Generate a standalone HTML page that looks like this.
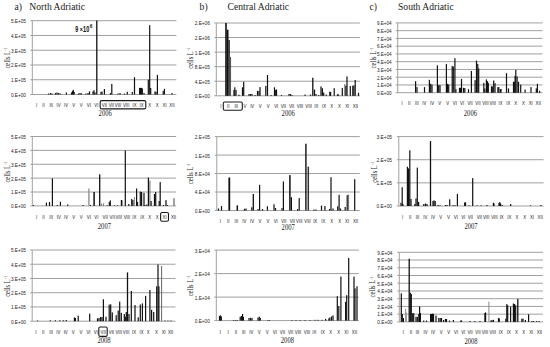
<!DOCTYPE html><html><head><meta charset="utf-8"><style>html,body{margin:0;padding:0;background:#fff;width:550px;height:347px;overflow:hidden}svg{display:block}.s{font-family:"Liberation Sans",sans-serif}.r{font-family:"Liberation Serif",serif}</style></head><body>
<svg width="550" height="347" viewBox="0 0 550 347">
<rect width="550" height="347" fill="#fff"/>
<text class="r" x="14.6" y="9.6" font-size="9.6" fill="#1a1a1a">a)</text>
<text class="r" x="29.3" y="9.6" font-size="9.6" fill="#1a1a1a">North Adriatic</text>
<text class="r" x="199.6" y="9.6" font-size="9.6" fill="#1a1a1a">b)</text>
<text class="r" x="227.6" y="9.6" font-size="9.6" fill="#1a1a1a">Central Adriatic</text>
<text class="r" x="369.6" y="9.6" font-size="9.6" fill="#1a1a1a">c)</text>
<text class="r" x="398" y="9.6" font-size="9.6" fill="#1a1a1a">South Adriatic</text>
<line x1="30.3" y1="20.7" x2="176.4" y2="20.7" stroke="#a0a0a0" stroke-width="1"/>
<text class="s" x="25.9" y="23.17" font-size="5.5" fill="#1a1a1a" text-anchor="end" textLength="15" lengthAdjust="spacingAndGlyphs">5.E+05</text>
<line x1="30.3" y1="35.46" x2="176.4" y2="35.46" stroke="#a0a0a0" stroke-width="1"/>
<text class="s" x="25.9" y="37.93" font-size="5.5" fill="#1a1a1a" text-anchor="end" textLength="15" lengthAdjust="spacingAndGlyphs">4.E+05</text>
<line x1="30.3" y1="50.22" x2="176.4" y2="50.22" stroke="#a0a0a0" stroke-width="1"/>
<text class="s" x="25.9" y="52.69" font-size="5.5" fill="#1a1a1a" text-anchor="end" textLength="15" lengthAdjust="spacingAndGlyphs">3.E+05</text>
<line x1="30.3" y1="64.98" x2="176.4" y2="64.98" stroke="#a0a0a0" stroke-width="1"/>
<text class="s" x="25.9" y="67.45" font-size="5.5" fill="#1a1a1a" text-anchor="end" textLength="15" lengthAdjust="spacingAndGlyphs">2.E+05</text>
<line x1="30.3" y1="79.74" x2="176.4" y2="79.74" stroke="#a0a0a0" stroke-width="1"/>
<text class="s" x="25.9" y="82.21" font-size="5.5" fill="#1a1a1a" text-anchor="end" textLength="15" lengthAdjust="spacingAndGlyphs">1.E+05</text>
<line x1="30.3" y1="94.5" x2="176.4" y2="94.5" stroke="#a0a0a0" stroke-width="1"/>
<text class="s" x="25.9" y="96.97" font-size="5.5" fill="#1a1a1a" text-anchor="end" textLength="15" lengthAdjust="spacingAndGlyphs">0.E+00</text>
<line x1="32.3" y1="20.7" x2="32.3" y2="94.5" stroke="#a0a0a0" stroke-width="1"/>
<rect x="47.9" y="93.5" width="1.2" height="1" fill="#111"/>
<rect x="49.9" y="93" width="1.2" height="1.5" fill="#111"/>
<rect x="51.4" y="93.5" width="1.2" height="1" fill="#111"/>
<rect x="54.9" y="93" width="1.2" height="1.5" fill="#111"/>
<rect x="56.4" y="92.5" width="1.2" height="2" fill="#111"/>
<rect x="57.9" y="93" width="1.2" height="1.5" fill="#111"/>
<rect x="59.4" y="93.5" width="1.2" height="1" fill="#111"/>
<rect x="65.8" y="92.5" width="1.2" height="2" fill="#111"/>
<rect x="70.9" y="92.5" width="1.2" height="2" fill="#111"/>
<rect x="71.9" y="91" width="1.2" height="3.5" fill="#111"/>
<rect x="72.7" y="89.8" width="1.2" height="4.7" fill="#111"/>
<rect x="73.6" y="92" width="1.2" height="2.5" fill="#111"/>
<rect x="77.9" y="93.5" width="1.2" height="1" fill="#111"/>
<rect x="79.4" y="93" width="1.2" height="1.5" fill="#111"/>
<rect x="80.8" y="93.3" width="1.2" height="1.2" fill="#111"/>
<rect x="85.4" y="93.5" width="1.2" height="1" fill="#111"/>
<rect x="87.4" y="93" width="1.2" height="1.5" fill="#111"/>
<rect x="88.9" y="91.4" width="1.2" height="3.1" fill="#111"/>
<rect x="92.4" y="91.5" width="1.2" height="3" fill="#111"/>
<rect x="93.4" y="90.2" width="1.2" height="4.3" fill="#111"/>
<rect x="94.4" y="92.5" width="1.2" height="2" fill="#111"/>
<rect x="96.15" y="20.5" width="1.3" height="74" fill="#111"/>
<rect x="100.4" y="92" width="1.2" height="2.5" fill="#111"/>
<rect x="101.4" y="91.5" width="1.2" height="3" fill="#111"/>
<rect x="103.8" y="89" width="1.2" height="5.5" fill="#111"/>
<rect x="109.9" y="93" width="1.2" height="1.5" fill="#111"/>
<rect x="111.2" y="84" width="1.2" height="10.5" fill="#111"/>
<rect x="117.4" y="93.5" width="1.2" height="1" fill="#111"/>
<rect x="119.4" y="93" width="1.2" height="1.5" fill="#111"/>
<rect x="123.9" y="93.5" width="1.2" height="1" fill="#111"/>
<rect x="126.7" y="91.8" width="1.2" height="2.7" fill="#111"/>
<rect x="131.7" y="92" width="1.2" height="2.5" fill="#111"/>
<rect x="133.9" y="77.2" width="1.2" height="17.3" fill="#111"/>
<rect x="139" y="87.9" width="1.2" height="6.6" fill="#111"/>
<rect x="140" y="87.9" width="1.2" height="6.6" fill="#111"/>
<rect x="141" y="87.9" width="1.2" height="6.6" fill="#111"/>
<rect x="141.7" y="88.5" width="1.2" height="6" fill="#111"/>
<rect x="143.4" y="93" width="1.2" height="1.5" fill="#111"/>
<rect x="147.7" y="79.7" width="1.2" height="14.8" fill="#111"/>
<rect x="149.1" y="25.2" width="1.2" height="69.3" fill="#111"/>
<rect x="150.1" y="88" width="1.2" height="6.5" fill="#111"/>
<rect x="154.4" y="91.4" width="1.2" height="3.1" fill="#111"/>
<rect x="155.4" y="92" width="1.2" height="2.5" fill="#111"/>
<rect x="156.8" y="74.9" width="1.2" height="19.6" fill="#111"/>
<rect x="162.6" y="91" width="1.2" height="3.5" fill="#111"/>
<rect x="163.8" y="88.8" width="1.2" height="5.7" fill="#111"/>
<rect x="171.4" y="93" width="1.2" height="1.5" fill="#111"/>
<text class="s" transform="translate(36.5 107.24) scale(0.85 1)" font-size="5.1" fill="#1a1a1a" text-anchor="middle">I</text>
<text class="s" transform="translate(43.4 107.24) scale(0.85 1)" font-size="5.1" fill="#1a1a1a" text-anchor="middle">II</text>
<text class="s" transform="translate(51.2 107.24) scale(0.85 1)" font-size="5.1" fill="#1a1a1a" text-anchor="middle">III</text>
<text class="s" transform="translate(58.6 107.24) scale(0.85 1)" font-size="5.1" fill="#1a1a1a" text-anchor="middle">IV</text>
<text class="s" transform="translate(66 107.24) scale(0.85 1)" font-size="5.1" fill="#1a1a1a" text-anchor="middle">IV</text>
<text class="s" transform="translate(73.6 107.24) scale(0.85 1)" font-size="5.1" fill="#1a1a1a" text-anchor="middle">V</text>
<text class="s" transform="translate(81.2 107.24) scale(0.85 1)" font-size="5.1" fill="#1a1a1a" text-anchor="middle">V</text>
<text class="s" transform="translate(88.9 107.24) scale(0.85 1)" font-size="5.1" fill="#1a1a1a" text-anchor="middle">VI</text>
<text class="s" transform="translate(96.4 107.24) scale(0.85 1)" font-size="5.1" fill="#1a1a1a" text-anchor="middle">VI</text>
<text class="s" transform="translate(104.4 107.24) scale(0.85 1)" font-size="5.1" fill="#1a1a1a" text-anchor="middle">VII</text>
<text class="s" transform="translate(111.3 107.24) scale(0.85 1)" font-size="5.1" fill="#1a1a1a" text-anchor="middle">VII</text>
<text class="s" transform="translate(118 107.24) scale(0.85 1)" font-size="5.1" fill="#1a1a1a" text-anchor="middle">VIII</text>
<text class="s" transform="translate(126.2 107.24) scale(0.85 1)" font-size="5.1" fill="#1a1a1a" text-anchor="middle">VIII</text>
<text class="s" transform="translate(134.6 107.24) scale(0.85 1)" font-size="5.1" fill="#1a1a1a" text-anchor="middle">IX</text>
<text class="s" transform="translate(141.5 107.24) scale(0.85 1)" font-size="5.1" fill="#1a1a1a" text-anchor="middle">IX</text>
<text class="s" transform="translate(149.8 107.24) scale(0.85 1)" font-size="5.1" fill="#1a1a1a" text-anchor="middle">X</text>
<text class="s" transform="translate(157.2 107.24) scale(0.85 1)" font-size="5.1" fill="#1a1a1a" text-anchor="middle">X</text>
<text class="s" transform="translate(164.6 107.24) scale(0.85 1)" font-size="5.1" fill="#1a1a1a" text-anchor="middle">XI</text>
<text class="s" transform="translate(172 107.24) scale(0.85 1)" font-size="5.1" fill="#1a1a1a" text-anchor="middle">XII</text>
<rect x="100.2" y="100.6" width="45.6" height="8.3" rx="1.5" fill="none" stroke="#1a1a1a" stroke-width="1.1"/>
<text class="r" x="105.2" y="115.6" font-size="7.4" fill="#1a1a1a" text-anchor="middle" textLength="13.2" lengthAdjust="spacingAndGlyphs">2006</text>
<text class="r" font-size="7.2" fill="#1a1a1a" text-anchor="middle" transform="translate(9.5,58) rotate(-90) scale(0.91,1)">cells L<tspan font-size="4.6" dy="-2.8">-1</tspan></text>
<line x1="30.3" y1="136.5" x2="176.2" y2="136.5" stroke="#a0a0a0" stroke-width="1"/>
<text class="s" x="25.9" y="138.97" font-size="5.5" fill="#1a1a1a" text-anchor="end" textLength="15" lengthAdjust="spacingAndGlyphs">5.E+05</text>
<line x1="30.3" y1="150.38" x2="176.2" y2="150.38" stroke="#a0a0a0" stroke-width="1"/>
<text class="s" x="25.9" y="152.85" font-size="5.5" fill="#1a1a1a" text-anchor="end" textLength="15" lengthAdjust="spacingAndGlyphs">4.E+05</text>
<line x1="30.3" y1="164.26" x2="176.2" y2="164.26" stroke="#a0a0a0" stroke-width="1"/>
<text class="s" x="25.9" y="166.73" font-size="5.5" fill="#1a1a1a" text-anchor="end" textLength="15" lengthAdjust="spacingAndGlyphs">3.E+05</text>
<line x1="30.3" y1="178.14" x2="176.2" y2="178.14" stroke="#a0a0a0" stroke-width="1"/>
<text class="s" x="25.9" y="180.61" font-size="5.5" fill="#1a1a1a" text-anchor="end" textLength="15" lengthAdjust="spacingAndGlyphs">2.E+05</text>
<line x1="30.3" y1="192.02" x2="176.2" y2="192.02" stroke="#a0a0a0" stroke-width="1"/>
<text class="s" x="25.9" y="194.49" font-size="5.5" fill="#1a1a1a" text-anchor="end" textLength="15" lengthAdjust="spacingAndGlyphs">1.E+05</text>
<line x1="30.3" y1="205.9" x2="176.2" y2="205.9" stroke="#a0a0a0" stroke-width="1"/>
<text class="s" x="25.9" y="208.37" font-size="5.5" fill="#1a1a1a" text-anchor="end" textLength="15" lengthAdjust="spacingAndGlyphs">0.E+00</text>
<line x1="32.3" y1="136.5" x2="32.3" y2="205.9" stroke="#a0a0a0" stroke-width="1"/>
<rect x="32.7" y="205" width="1.2" height="0.9" fill="#111"/>
<rect x="45.8" y="202.6" width="1.2" height="3.3" fill="#111"/>
<rect x="48.9" y="202" width="1.2" height="3.9" fill="#111"/>
<rect x="51.8" y="178.4" width="1.2" height="27.5" fill="#111"/>
<rect x="56.8" y="205" width="1.2" height="0.9" fill="#111"/>
<rect x="59.8" y="201.7" width="1.2" height="4.2" fill="#111"/>
<rect x="67.1" y="204.5" width="1.2" height="1.4" fill="#111"/>
<rect x="82.4" y="205" width="1.2" height="0.9" fill="#111"/>
<rect x="88.15" y="188.6" width="1.5" height="17.3" fill="#999"/>
<rect x="89.8" y="205" width="1.2" height="0.9" fill="#111"/>
<rect x="93.35" y="192" width="1.5" height="13.9" fill="#111"/>
<rect x="99.05" y="174.3" width="1.3" height="31.6" fill="#111"/>
<rect x="101.1" y="203.5" width="1" height="2.4" fill="#777"/>
<rect x="103" y="203.5" width="1" height="2.4" fill="#777"/>
<rect x="106.6" y="205.3" width="1.2" height="0.6" fill="#111"/>
<rect x="108.7" y="202" width="1.2" height="3.9" fill="#111"/>
<rect x="109.7" y="200.4" width="1.2" height="5.5" fill="#111"/>
<rect x="114" y="205.3" width="1.2" height="0.6" fill="#111"/>
<rect x="117.1" y="205.3" width="1.2" height="0.6" fill="#111"/>
<rect x="120.8" y="200" width="1.2" height="5.9" fill="#111"/>
<rect x="122.1" y="200.3" width="1" height="5.6" fill="#888"/>
<rect x="124.7" y="150.5" width="1.2" height="55.4" fill="#111"/>
<rect x="128.2" y="204" width="1.2" height="1.9" fill="#111"/>
<rect x="131.1" y="199" width="1.2" height="6.9" fill="#111"/>
<rect x="132.3" y="200" width="1.2" height="5.9" fill="#111"/>
<rect x="133.9" y="197" width="1" height="8.9" fill="#888"/>
<rect x="136" y="188.5" width="1.2" height="17.4" fill="#111"/>
<rect x="136.9" y="202" width="1.2" height="3.9" fill="#111"/>
<rect x="139.7" y="191.6" width="1.2" height="14.3" fill="#111"/>
<rect x="141" y="192" width="1.2" height="13.9" fill="#111"/>
<rect x="143.4" y="192.9" width="1.2" height="13" fill="#111"/>
<rect x="144.3" y="205" width="1.2" height="0.9" fill="#111"/>
<rect x="146.2" y="204.5" width="1.2" height="1.4" fill="#111"/>
<rect x="147.8" y="177.6" width="1.2" height="28.3" fill="#111"/>
<rect x="149.4" y="180.5" width="1" height="25.4" fill="#666"/>
<rect x="150.5" y="201" width="1.2" height="4.9" fill="#111"/>
<rect x="153.9" y="194" width="1.2" height="11.9" fill="#111"/>
<rect x="155.1" y="192" width="1.2" height="13.9" fill="#111"/>
<rect x="158.6" y="201" width="1.2" height="4.9" fill="#111"/>
<rect x="159.6" y="182.1" width="1.2" height="23.8" fill="#111"/>
<rect x="162.9" y="205" width="1.2" height="0.9" fill="#111"/>
<rect x="165.4" y="200.1" width="1.2" height="5.8" fill="#111"/>
<rect x="166.6" y="205" width="1.2" height="0.9" fill="#111"/>
<rect x="173.45" y="198.2" width="1.1" height="7.7" fill="#555"/>
<text class="s" transform="translate(36.5 218.74) scale(0.85 1)" font-size="5.1" fill="#1a1a1a" text-anchor="middle">I</text>
<text class="s" transform="translate(43.4 218.74) scale(0.85 1)" font-size="5.1" fill="#1a1a1a" text-anchor="middle">II</text>
<text class="s" transform="translate(51.1 218.74) scale(0.85 1)" font-size="5.1" fill="#1a1a1a" text-anchor="middle">III</text>
<text class="s" transform="translate(58.8 218.74) scale(0.85 1)" font-size="5.1" fill="#1a1a1a" text-anchor="middle">IV</text>
<text class="s" transform="translate(66.1 218.74) scale(0.85 1)" font-size="5.1" fill="#1a1a1a" text-anchor="middle">IV</text>
<text class="s" transform="translate(73.6 218.74) scale(0.85 1)" font-size="5.1" fill="#1a1a1a" text-anchor="middle">V</text>
<text class="s" transform="translate(81.2 218.74) scale(0.85 1)" font-size="5.1" fill="#1a1a1a" text-anchor="middle">V</text>
<text class="s" transform="translate(88.9 218.74) scale(0.85 1)" font-size="5.1" fill="#1a1a1a" text-anchor="middle">VI</text>
<text class="s" transform="translate(96.4 218.74) scale(0.85 1)" font-size="5.1" fill="#1a1a1a" text-anchor="middle">VI</text>
<text class="s" transform="translate(105.2 218.74) scale(0.85 1)" font-size="5.1" fill="#1a1a1a" text-anchor="middle">VII</text>
<text class="s" transform="translate(112.2 218.74) scale(0.85 1)" font-size="5.1" fill="#1a1a1a" text-anchor="middle">VII</text>
<text class="s" transform="translate(118.7 218.74) scale(0.85 1)" font-size="5.1" fill="#1a1a1a" text-anchor="middle">VIII</text>
<text class="s" transform="translate(126.9 218.74) scale(0.85 1)" font-size="5.1" fill="#1a1a1a" text-anchor="middle">VIII</text>
<text class="s" transform="translate(134.3 218.74) scale(0.85 1)" font-size="5.1" fill="#1a1a1a" text-anchor="middle">IX</text>
<text class="s" transform="translate(142.3 218.74) scale(0.85 1)" font-size="5.1" fill="#1a1a1a" text-anchor="middle">IX</text>
<text class="s" transform="translate(149.8 218.74) scale(0.85 1)" font-size="5.1" fill="#1a1a1a" text-anchor="middle">X</text>
<text class="s" transform="translate(157.2 218.74) scale(0.85 1)" font-size="5.1" fill="#1a1a1a" text-anchor="middle">X</text>
<text class="s" transform="translate(164.6 218.74) scale(0.85 1)" font-size="5.1" fill="#1a1a1a" text-anchor="middle">XI</text>
<text class="s" transform="translate(173.6 218.74) scale(0.85 1)" font-size="5.1" fill="#1a1a1a" text-anchor="middle">XII</text>
<rect x="160.6" y="212.5" width="7.9" height="8.8" rx="1.5" fill="none" stroke="#1a1a1a" stroke-width="1.1"/>
<text class="r" x="104.4" y="228.9" font-size="7.4" fill="#1a1a1a" text-anchor="middle" textLength="13.2" lengthAdjust="spacingAndGlyphs">2007</text>
<text class="r" font-size="7.2" fill="#1a1a1a" text-anchor="middle" transform="translate(9.5,172) rotate(-90) scale(0.91,1)">cells L<tspan font-size="4.6" dy="-2.8">-1</tspan></text>
<line x1="30.2" y1="250" x2="175.5" y2="250" stroke="#a0a0a0" stroke-width="1"/>
<text class="s" x="25.9" y="252.47" font-size="5.5" fill="#1a1a1a" text-anchor="end" textLength="15" lengthAdjust="spacingAndGlyphs">5.E+05</text>
<line x1="30.2" y1="264.24" x2="175.5" y2="264.24" stroke="#a0a0a0" stroke-width="1"/>
<text class="s" x="25.9" y="266.71" font-size="5.5" fill="#1a1a1a" text-anchor="end" textLength="15" lengthAdjust="spacingAndGlyphs">4.E+05</text>
<line x1="30.2" y1="278.48" x2="175.5" y2="278.48" stroke="#a0a0a0" stroke-width="1"/>
<text class="s" x="25.9" y="280.95" font-size="5.5" fill="#1a1a1a" text-anchor="end" textLength="15" lengthAdjust="spacingAndGlyphs">3.E+05</text>
<line x1="30.2" y1="292.72" x2="175.5" y2="292.72" stroke="#a0a0a0" stroke-width="1"/>
<text class="s" x="25.9" y="295.19" font-size="5.5" fill="#1a1a1a" text-anchor="end" textLength="15" lengthAdjust="spacingAndGlyphs">2.E+05</text>
<line x1="30.2" y1="306.96" x2="175.5" y2="306.96" stroke="#a0a0a0" stroke-width="1"/>
<text class="s" x="25.9" y="309.43" font-size="5.5" fill="#1a1a1a" text-anchor="end" textLength="15" lengthAdjust="spacingAndGlyphs">1.E+05</text>
<line x1="30.2" y1="321.2" x2="175.5" y2="321.2" stroke="#a0a0a0" stroke-width="1"/>
<text class="s" x="25.9" y="323.67" font-size="5.5" fill="#1a1a1a" text-anchor="end" textLength="15" lengthAdjust="spacingAndGlyphs">0.E+00</text>
<line x1="32.2" y1="250" x2="32.2" y2="321.2" stroke="#a0a0a0" stroke-width="1"/>
<rect x="37" y="320.5" width="1.2" height="0.7" fill="#111"/>
<rect x="49.7" y="320.3" width="1.2" height="0.9" fill="#111"/>
<rect x="54.8" y="320.3" width="1.2" height="0.9" fill="#111"/>
<rect x="59.2" y="320.3" width="1.2" height="0.9" fill="#111"/>
<rect x="62.6" y="320.3" width="1.2" height="0.9" fill="#111"/>
<rect x="65.6" y="320" width="1.2" height="1.2" fill="#111"/>
<rect x="73.8" y="317.4" width="1.2" height="3.8" fill="#111"/>
<rect x="74.8" y="318" width="1.2" height="3.2" fill="#111"/>
<rect x="77.6" y="315.7" width="1.2" height="5.5" fill="#111"/>
<rect x="89.1" y="313.6" width="1.2" height="7.6" fill="#111"/>
<rect x="96.9" y="318.3" width="1.2" height="2.9" fill="#111"/>
<rect x="98.4" y="318" width="1.2" height="3.2" fill="#111"/>
<rect x="100" y="317" width="1.2" height="4.2" fill="#111"/>
<rect x="101.4" y="317" width="1.2" height="4.2" fill="#111"/>
<rect x="102.8" y="299.3" width="1.2" height="21.9" fill="#111"/>
<rect x="105.4" y="316.7" width="1.2" height="4.5" fill="#111"/>
<rect x="108.6" y="304.6" width="1.2" height="16.6" fill="#111"/>
<rect x="110.1" y="304.3" width="1.2" height="16.9" fill="#111"/>
<rect x="111.7" y="312.4" width="1.2" height="8.8" fill="#111"/>
<rect x="115.6" y="315.2" width="1.2" height="6" fill="#111"/>
<rect x="117.6" y="310.5" width="1.2" height="10.7" fill="#111"/>
<rect x="119.1" y="301.6" width="1.2" height="19.6" fill="#111"/>
<rect x="120.7" y="312.8" width="1.2" height="8.4" fill="#111"/>
<rect x="123.7" y="314" width="1.2" height="7.2" fill="#111"/>
<rect x="124.7" y="316.7" width="1.2" height="4.5" fill="#111"/>
<rect x="125.7" y="312" width="1.2" height="9.2" fill="#111"/>
<rect x="126.85" y="272.4" width="1.3" height="48.8" fill="#111"/>
<rect x="128.4" y="314" width="1.2" height="7.2" fill="#111"/>
<rect x="130.7" y="291" width="1.2" height="30.2" fill="#111"/>
<rect x="134.4" y="305" width="1.2" height="16.2" fill="#111"/>
<rect x="137.6" y="317.3" width="1.2" height="3.9" fill="#111"/>
<rect x="139.7" y="304.5" width="1.2" height="16.7" fill="#111"/>
<rect x="141.8" y="303.4" width="1.2" height="17.8" fill="#111"/>
<rect x="145" y="295.9" width="1.2" height="25.3" fill="#111"/>
<rect x="149.3" y="290" width="1.2" height="31.2" fill="#111"/>
<rect x="151" y="309.8" width="1.2" height="11.4" fill="#111"/>
<rect x="153.1" y="312" width="1.2" height="9.2" fill="#111"/>
<rect x="156.1" y="286.3" width="1.2" height="34.9" fill="#111"/>
<rect x="157.4" y="264.5" width="1.2" height="56.7" fill="#111"/>
<rect x="158.3" y="286.3" width="1.2" height="34.9" fill="#111"/>
<rect x="161.1" y="266" width="1" height="55.2" fill="#666"/>
<rect x="164.4" y="320.5" width="1.2" height="0.7" fill="#111"/>
<rect x="167.4" y="320.5" width="1.2" height="0.7" fill="#111"/>
<rect x="170.4" y="320.5" width="1.2" height="0.7" fill="#111"/>
<text class="s" transform="translate(35.9 333.94) scale(0.85 1)" font-size="5.1" fill="#1a1a1a" text-anchor="middle">I</text>
<text class="s" transform="translate(43.2 333.94) scale(0.85 1)" font-size="5.1" fill="#1a1a1a" text-anchor="middle">II</text>
<text class="s" transform="translate(51.1 333.94) scale(0.85 1)" font-size="5.1" fill="#1a1a1a" text-anchor="middle">III</text>
<text class="s" transform="translate(58.4 333.94) scale(0.85 1)" font-size="5.1" fill="#1a1a1a" text-anchor="middle">IV</text>
<text class="s" transform="translate(65.7 333.94) scale(0.85 1)" font-size="5.1" fill="#1a1a1a" text-anchor="middle">IV</text>
<text class="s" transform="translate(73.2 333.94) scale(0.85 1)" font-size="5.1" fill="#1a1a1a" text-anchor="middle">V</text>
<text class="s" transform="translate(80.9 333.94) scale(0.85 1)" font-size="5.1" fill="#1a1a1a" text-anchor="middle">V</text>
<text class="s" transform="translate(88.5 333.94) scale(0.85 1)" font-size="5.1" fill="#1a1a1a" text-anchor="middle">VI</text>
<text class="s" transform="translate(95.8 333.94) scale(0.85 1)" font-size="5.1" fill="#1a1a1a" text-anchor="middle">VI</text>
<text class="s" transform="translate(103.2 333.94) scale(0.85 1)" font-size="5.1" fill="#1a1a1a" text-anchor="middle">VII</text>
<text class="s" transform="translate(111.4 333.94) scale(0.85 1)" font-size="5.1" fill="#1a1a1a" text-anchor="middle">VII</text>
<text class="s" transform="translate(118.7 333.94) scale(0.85 1)" font-size="5.1" fill="#1a1a1a" text-anchor="middle">VIII</text>
<text class="s" transform="translate(126.1 333.94) scale(0.85 1)" font-size="5.1" fill="#1a1a1a" text-anchor="middle">VIII</text>
<text class="s" transform="translate(134 333.94) scale(0.85 1)" font-size="5.1" fill="#1a1a1a" text-anchor="middle">IX</text>
<text class="s" transform="translate(141.6 333.94) scale(0.85 1)" font-size="5.1" fill="#1a1a1a" text-anchor="middle">IX</text>
<text class="s" transform="translate(148.2 333.94) scale(0.85 1)" font-size="5.1" fill="#1a1a1a" text-anchor="middle">X</text>
<text class="s" transform="translate(156.4 333.94) scale(0.85 1)" font-size="5.1" fill="#1a1a1a" text-anchor="middle">X</text>
<text class="s" transform="translate(163.7 333.94) scale(0.85 1)" font-size="5.1" fill="#1a1a1a" text-anchor="middle">XI</text>
<text class="s" transform="translate(170.6 333.94) scale(0.85 1)" font-size="5.1" fill="#1a1a1a" text-anchor="middle">XII</text>
<rect x="98.8" y="327" width="8.4" height="9.4" rx="1.5" fill="none" stroke="#1a1a1a" stroke-width="1.1"/>
<text class="r" x="104" y="343.4" font-size="7.4" fill="#1a1a1a" text-anchor="middle" textLength="13.2" lengthAdjust="spacingAndGlyphs">2008</text>
<text class="r" font-size="7.2" fill="#1a1a1a" text-anchor="middle" transform="translate(9.5,286.3) rotate(-90) scale(0.91,1)">cells L<tspan font-size="4.6" dy="-2.8">-1</tspan></text>
<line x1="214.3" y1="23" x2="359.9" y2="23" stroke="#a0a0a0" stroke-width="1"/>
<text class="s" x="209.9" y="25.47" font-size="5.5" fill="#1a1a1a" text-anchor="end" textLength="15.2" lengthAdjust="spacingAndGlyphs">2.E+06</text>
<line x1="214.3" y1="37.56" x2="359.9" y2="37.56" stroke="#a0a0a0" stroke-width="1"/>
<text class="s" x="209.9" y="40.03" font-size="5.5" fill="#1a1a1a" text-anchor="end" textLength="15.2" lengthAdjust="spacingAndGlyphs">2.E+06</text>
<line x1="214.3" y1="52.12" x2="359.9" y2="52.12" stroke="#a0a0a0" stroke-width="1"/>
<text class="s" x="209.9" y="54.59" font-size="5.5" fill="#1a1a1a" text-anchor="end" textLength="15.2" lengthAdjust="spacingAndGlyphs">1.E+06</text>
<line x1="214.3" y1="66.68" x2="359.9" y2="66.68" stroke="#a0a0a0" stroke-width="1"/>
<text class="s" x="209.9" y="69.15" font-size="5.5" fill="#1a1a1a" text-anchor="end" textLength="15.2" lengthAdjust="spacingAndGlyphs">8.E+05</text>
<line x1="214.3" y1="81.24" x2="359.9" y2="81.24" stroke="#a0a0a0" stroke-width="1"/>
<text class="s" x="209.9" y="83.71" font-size="5.5" fill="#1a1a1a" text-anchor="end" textLength="15.2" lengthAdjust="spacingAndGlyphs">4.E+05</text>
<line x1="214.3" y1="95.8" x2="359.9" y2="95.8" stroke="#a0a0a0" stroke-width="1"/>
<text class="s" x="209.9" y="98.27" font-size="5.5" fill="#1a1a1a" text-anchor="end" textLength="15.2" lengthAdjust="spacingAndGlyphs">0.E+00</text>
<line x1="216.3" y1="23" x2="216.3" y2="95.8" stroke="#a0a0a0" stroke-width="1"/>
<rect x="225.2" y="23" width="1.6" height="72.8" fill="#111"/>
<rect x="226.7" y="29.7" width="1.8" height="66.1" fill="#111"/>
<rect x="228.45" y="40" width="1.3" height="55.8" fill="#111"/>
<rect x="229.75" y="57" width="1.3" height="38.8" fill="#555"/>
<rect x="233.4" y="90" width="1.2" height="5.8" fill="#111"/>
<rect x="234.2" y="87.3" width="1.2" height="8.5" fill="#111"/>
<rect x="235.4" y="90" width="1.2" height="5.8" fill="#111"/>
<rect x="238.4" y="94.7" width="1.2" height="1.1" fill="#111"/>
<rect x="241.9" y="87.3" width="1.2" height="8.5" fill="#111"/>
<rect x="243.1" y="81.8" width="1.2" height="14" fill="#111"/>
<rect x="248.4" y="94" width="1.2" height="1.8" fill="#111"/>
<rect x="249.9" y="94" width="1.2" height="1.8" fill="#111"/>
<rect x="251.4" y="94" width="1.2" height="1.8" fill="#111"/>
<rect x="254.4" y="95" width="1.2" height="0.8" fill="#111"/>
<rect x="256.9" y="90.9" width="1.2" height="4.9" fill="#111"/>
<rect x="258.4" y="90.9" width="1.2" height="4.9" fill="#111"/>
<rect x="259.4" y="87.1" width="1.2" height="8.7" fill="#111"/>
<rect x="265.2" y="85.9" width="1.2" height="9.9" fill="#111"/>
<rect x="266.9" y="75" width="1.2" height="20.8" fill="#111"/>
<rect x="270.6" y="95" width="1.2" height="0.8" fill="#111"/>
<rect x="273.9" y="87.3" width="1.2" height="8.5" fill="#111"/>
<rect x="275.1" y="90" width="1.2" height="5.8" fill="#111"/>
<rect x="275.9" y="89.5" width="1.2" height="6.3" fill="#111"/>
<rect x="280.9" y="95" width="1.2" height="0.8" fill="#111"/>
<rect x="288.4" y="94" width="1.2" height="1.8" fill="#111"/>
<rect x="289.9" y="94" width="1.2" height="1.8" fill="#111"/>
<rect x="291.4" y="95" width="1.2" height="0.8" fill="#111"/>
<rect x="304.4" y="94.5" width="1.2" height="1.3" fill="#111"/>
<rect x="309.9" y="94.5" width="1.2" height="1.3" fill="#111"/>
<rect x="312.15" y="77.7" width="1.3" height="18.1" fill="#111"/>
<rect x="313.9" y="89.5" width="1.2" height="6.3" fill="#111"/>
<rect x="315.4" y="94" width="1.2" height="1.8" fill="#111"/>
<rect x="318.1" y="95" width="1.2" height="0.8" fill="#111"/>
<rect x="320.4" y="86.4" width="1.2" height="9.4" fill="#111"/>
<rect x="321.8" y="88.2" width="1.2" height="7.6" fill="#111"/>
<rect x="323.1" y="92.5" width="1.2" height="3.3" fill="#111"/>
<rect x="325.6" y="94.5" width="1.2" height="1.3" fill="#111"/>
<rect x="329.2" y="91.7" width="1.2" height="4.1" fill="#111"/>
<rect x="330" y="92" width="1.2" height="3.8" fill="#111"/>
<rect x="333.6" y="88.2" width="1.2" height="7.6" fill="#111"/>
<rect x="336.9" y="94.2" width="1.2" height="1.6" fill="#111"/>
<rect x="337.9" y="94.5" width="1.2" height="1.3" fill="#111"/>
<rect x="341.7" y="87.9" width="1.2" height="7.9" fill="#111"/>
<rect x="344.3" y="84.1" width="1" height="11.7" fill="#666"/>
<rect x="345.3" y="85.7" width="1.2" height="10.1" fill="#111"/>
<rect x="346.4" y="76.4" width="1.2" height="19.4" fill="#111"/>
<rect x="349.7" y="86" width="1.2" height="9.8" fill="#111"/>
<rect x="352.2" y="85.7" width="1.2" height="10.1" fill="#111"/>
<rect x="353.3" y="85.4" width="1.2" height="10.4" fill="#111"/>
<rect x="354.6" y="80" width="1.2" height="15.8" fill="#111"/>
<rect x="357.9" y="92.8" width="1.2" height="3" fill="#111"/>
<text class="s" transform="translate(220.9 107.74) scale(0.85 1)" font-size="5.1" fill="#1a1a1a" text-anchor="middle">I</text>
<text class="s" transform="translate(228.2 107.74) scale(0.85 1)" font-size="5.1" fill="#1a1a1a" text-anchor="middle">II</text>
<text class="s" transform="translate(236.2 107.74) scale(0.85 1)" font-size="5.1" fill="#1a1a1a" text-anchor="middle">III</text>
<text class="s" transform="translate(244.9 107.74) scale(0.85 1)" font-size="5.1" fill="#1a1a1a" text-anchor="middle">V</text>
<text class="s" transform="translate(252.2 107.74) scale(0.85 1)" font-size="5.1" fill="#1a1a1a" text-anchor="middle">IV</text>
<text class="s" transform="translate(260.2 107.74) scale(0.85 1)" font-size="5.1" fill="#1a1a1a" text-anchor="middle">V</text>
<text class="s" transform="translate(268.2 107.74) scale(0.85 1)" font-size="5.1" fill="#1a1a1a" text-anchor="middle">V</text>
<text class="s" transform="translate(276.2 107.74) scale(0.85 1)" font-size="5.1" fill="#1a1a1a" text-anchor="middle">VI</text>
<text class="s" transform="translate(283.3 107.74) scale(0.85 1)" font-size="5.1" fill="#1a1a1a" text-anchor="middle">VII</text>
<text class="s" transform="translate(291.6 107.74) scale(0.85 1)" font-size="5.1" fill="#1a1a1a" text-anchor="middle">VII</text>
<text class="s" transform="translate(300 107.74) scale(0.85 1)" font-size="5.1" fill="#1a1a1a" text-anchor="middle">VIII</text>
<text class="s" transform="translate(308.6 107.74) scale(0.85 1)" font-size="5.1" fill="#1a1a1a" text-anchor="middle">VIII</text>
<text class="s" transform="translate(316.3 107.74) scale(0.85 1)" font-size="5.1" fill="#1a1a1a" text-anchor="middle">IX</text>
<text class="s" transform="translate(324 107.74) scale(0.85 1)" font-size="5.1" fill="#1a1a1a" text-anchor="middle">IX</text>
<text class="s" transform="translate(331.8 107.74) scale(0.85 1)" font-size="5.1" fill="#1a1a1a" text-anchor="middle">X</text>
<text class="s" transform="translate(339.5 107.74) scale(0.85 1)" font-size="5.1" fill="#1a1a1a" text-anchor="middle">X</text>
<text class="s" transform="translate(347.2 107.74) scale(0.85 1)" font-size="5.1" fill="#1a1a1a" text-anchor="middle">XI</text>
<text class="s" transform="translate(355.4 107.74) scale(0.85 1)" font-size="5.1" fill="#1a1a1a" text-anchor="middle">XII</text>
<rect x="223.3" y="102" width="19" height="8.3" rx="1.5" fill="none" stroke="#1a1a1a" stroke-width="1.1"/>
<text class="r" x="288.2" y="115.8" font-size="7.4" fill="#1a1a1a" text-anchor="middle" textLength="13.2" lengthAdjust="spacingAndGlyphs">2006</text>
<text class="r" font-size="7.2" fill="#1a1a1a" text-anchor="middle" transform="translate(192.9,58.2) rotate(-90) scale(0.91,1)">cells L<tspan font-size="4.6" dy="-2.8">-1</tspan></text>
<line x1="214.8" y1="136.6" x2="359.8" y2="136.6" stroke="#a0a0a0" stroke-width="1"/>
<text class="s" x="209.9" y="139.07" font-size="5.5" fill="#1a1a1a" text-anchor="end" textLength="15.1" lengthAdjust="spacingAndGlyphs">2.E+05</text>
<line x1="214.8" y1="155.07" x2="359.8" y2="155.07" stroke="#a0a0a0" stroke-width="1"/>
<text class="s" x="209.9" y="157.54" font-size="5.5" fill="#1a1a1a" text-anchor="end" textLength="15.1" lengthAdjust="spacingAndGlyphs">1.E+05</text>
<line x1="214.8" y1="173.55" x2="359.8" y2="173.55" stroke="#a0a0a0" stroke-width="1"/>
<text class="s" x="209.9" y="176.02" font-size="5.5" fill="#1a1a1a" text-anchor="end" textLength="15.1" lengthAdjust="spacingAndGlyphs">8.E+04</text>
<line x1="214.8" y1="192.03" x2="359.8" y2="192.03" stroke="#a0a0a0" stroke-width="1"/>
<text class="s" x="209.9" y="194.49" font-size="5.5" fill="#1a1a1a" text-anchor="end" textLength="15.1" lengthAdjust="spacingAndGlyphs">4.E+04</text>
<line x1="214.8" y1="210.5" x2="359.8" y2="210.5" stroke="#a0a0a0" stroke-width="1"/>
<text class="s" x="209.9" y="212.97" font-size="5.5" fill="#1a1a1a" text-anchor="end" textLength="15.1" lengthAdjust="spacingAndGlyphs">0.E+00</text>
<line x1="216.8" y1="136.6" x2="216.8" y2="210.5" stroke="#a0a0a0" stroke-width="1"/>
<rect x="217.9" y="208.5" width="1.2" height="2" fill="#111"/>
<rect x="220.9" y="206.1" width="1.2" height="4.4" fill="#111"/>
<rect x="228.4" y="177.5" width="1.8" height="33" fill="#111"/>
<rect x="236.55" y="205.4" width="1.5" height="5.1" fill="#111"/>
<rect x="243.9" y="208.8" width="1.2" height="1.7" fill="#111"/>
<rect x="245.4" y="208.5" width="1.2" height="2" fill="#111"/>
<rect x="251.2" y="207.3" width="1.2" height="3.2" fill="#111"/>
<rect x="252.65" y="194" width="1.3" height="16.5" fill="#111"/>
<rect x="257.4" y="209" width="1.2" height="1.5" fill="#111"/>
<rect x="259" y="184.8" width="1.2" height="25.7" fill="#111"/>
<rect x="261.9" y="209" width="1.2" height="1.5" fill="#111"/>
<rect x="266.8" y="206.3" width="1.2" height="4.2" fill="#111"/>
<rect x="273.4" y="204.3" width="1.2" height="6.2" fill="#111"/>
<rect x="274.9" y="208" width="1.2" height="2.5" fill="#111"/>
<rect x="281.4" y="208.1" width="1.2" height="2.4" fill="#111"/>
<rect x="282.8" y="181.5" width="1.2" height="29" fill="#111"/>
<rect x="289.15" y="175.1" width="1.5" height="35.4" fill="#111"/>
<rect x="290.8" y="197.2" width="1.2" height="13.3" fill="#111"/>
<rect x="297.1" y="209" width="1.2" height="1.5" fill="#111"/>
<rect x="298.6" y="198.1" width="1.2" height="12.4" fill="#111"/>
<rect x="305.2" y="143.7" width="1.4" height="66.8" fill="#111"/>
<rect x="307.55" y="166.6" width="1.5" height="43.9" fill="#333"/>
<rect x="313.4" y="209.5" width="1.2" height="1" fill="#111"/>
<rect x="315.4" y="209.5" width="1.2" height="1" fill="#111"/>
<rect x="320.9" y="205.6" width="1.2" height="4.9" fill="#111"/>
<rect x="324.3" y="206" width="1.2" height="4.5" fill="#111"/>
<rect x="329" y="209" width="1.2" height="1.5" fill="#111"/>
<rect x="330.4" y="177.2" width="1.2" height="33.3" fill="#111"/>
<rect x="332.4" y="208.5" width="1.2" height="2" fill="#111"/>
<rect x="337.1" y="206.3" width="1.2" height="4.2" fill="#111"/>
<rect x="338.5" y="194.8" width="1.2" height="15.7" fill="#111"/>
<rect x="339.9" y="208.5" width="1.2" height="2" fill="#111"/>
<rect x="344.6" y="207" width="1.2" height="3.5" fill="#111"/>
<rect x="346.6" y="195.1" width="1.2" height="15.4" fill="#111"/>
<rect x="348.1" y="194.5" width="1" height="16" fill="#666"/>
<rect x="354.1" y="179.2" width="1.2" height="31.3" fill="#111"/>
<text class="s" transform="translate(220.4 222.94) scale(0.85 1)" font-size="5.1" fill="#1a1a1a" text-anchor="middle">I</text>
<text class="s" transform="translate(228.3 222.94) scale(0.85 1)" font-size="5.1" fill="#1a1a1a" text-anchor="middle">II</text>
<text class="s" transform="translate(236.4 222.94) scale(0.85 1)" font-size="5.1" fill="#1a1a1a" text-anchor="middle">III</text>
<text class="s" transform="translate(244.3 222.94) scale(0.85 1)" font-size="5.1" fill="#1a1a1a" text-anchor="middle">IV</text>
<text class="s" transform="translate(252 222.94) scale(0.85 1)" font-size="5.1" fill="#1a1a1a" text-anchor="middle">IV</text>
<text class="s" transform="translate(260 222.94) scale(0.85 1)" font-size="5.1" fill="#1a1a1a" text-anchor="middle">V</text>
<text class="s" transform="translate(268 222.94) scale(0.85 1)" font-size="5.1" fill="#1a1a1a" text-anchor="middle">V</text>
<text class="s" transform="translate(275.7 222.94) scale(0.85 1)" font-size="5.1" fill="#1a1a1a" text-anchor="middle">VI</text>
<text class="s" transform="translate(283.8 222.94) scale(0.85 1)" font-size="5.1" fill="#1a1a1a" text-anchor="middle">VII</text>
<text class="s" transform="translate(292.3 222.94) scale(0.85 1)" font-size="5.1" fill="#1a1a1a" text-anchor="middle">VII</text>
<text class="s" transform="translate(299.3 222.94) scale(0.85 1)" font-size="5.1" fill="#1a1a1a" text-anchor="middle">VIII</text>
<text class="s" transform="translate(307.5 222.94) scale(0.85 1)" font-size="5.1" fill="#1a1a1a" text-anchor="middle">VIII</text>
<text class="s" transform="translate(315.2 222.94) scale(0.85 1)" font-size="5.1" fill="#1a1a1a" text-anchor="middle">IX</text>
<text class="s" transform="translate(323.4 222.94) scale(0.85 1)" font-size="5.1" fill="#1a1a1a" text-anchor="middle">IX</text>
<text class="s" transform="translate(331.6 222.94) scale(0.85 1)" font-size="5.1" fill="#1a1a1a" text-anchor="middle">X</text>
<text class="s" transform="translate(339.7 222.94) scale(0.85 1)" font-size="5.1" fill="#1a1a1a" text-anchor="middle">X</text>
<text class="s" transform="translate(347.1 222.94) scale(0.85 1)" font-size="5.1" fill="#1a1a1a" text-anchor="middle">XI</text>
<text class="s" transform="translate(355.6 222.94) scale(0.85 1)" font-size="5.1" fill="#1a1a1a" text-anchor="middle">XII</text>
<text class="r" x="288.2" y="229.5" font-size="7.4" fill="#1a1a1a" text-anchor="middle" textLength="13.2" lengthAdjust="spacingAndGlyphs">2007</text>
<text class="r" font-size="7.2" fill="#1a1a1a" text-anchor="middle" transform="translate(192.9,173.7) rotate(-90) scale(0.91,1)">cells L<tspan font-size="4.6" dy="-2.8">-1</tspan></text>
<line x1="214.3" y1="250.1" x2="358.8" y2="250.1" stroke="#a0a0a0" stroke-width="1"/>
<text class="s" x="209.8" y="252.57" font-size="5.5" fill="#1a1a1a" text-anchor="end" textLength="15" lengthAdjust="spacingAndGlyphs">3.E+04</text>
<line x1="214.3" y1="273.6" x2="358.8" y2="273.6" stroke="#a0a0a0" stroke-width="1"/>
<text class="s" x="209.8" y="276.07" font-size="5.5" fill="#1a1a1a" text-anchor="end" textLength="15" lengthAdjust="spacingAndGlyphs">2.E+04</text>
<line x1="214.3" y1="297.1" x2="358.8" y2="297.1" stroke="#a0a0a0" stroke-width="1"/>
<text class="s" x="209.8" y="299.57" font-size="5.5" fill="#1a1a1a" text-anchor="end" textLength="15" lengthAdjust="spacingAndGlyphs">1.E+04</text>
<line x1="214.3" y1="320.6" x2="358.8" y2="320.6" stroke="#a0a0a0" stroke-width="1"/>
<text class="s" x="209.8" y="323.07" font-size="5.5" fill="#1a1a1a" text-anchor="end" textLength="15" lengthAdjust="spacingAndGlyphs">0.E+00</text>
<line x1="216.3" y1="250.1" x2="216.3" y2="320.6" stroke="#a0a0a0" stroke-width="1"/>
<rect x="218.9" y="316" width="1.2" height="4.6" fill="#111"/>
<rect x="219.9" y="315.3" width="1.2" height="5.3" fill="#111"/>
<rect x="220.7" y="316.5" width="1.2" height="4.1" fill="#111"/>
<rect x="232.9" y="320" width="1.2" height="0.6" fill="#111"/>
<rect x="234.9" y="320" width="1.2" height="0.6" fill="#111"/>
<rect x="236.4" y="320" width="1.2" height="0.6" fill="#111"/>
<rect x="239.6" y="316.7" width="1.2" height="3.9" fill="#111"/>
<rect x="240.9" y="316" width="1.2" height="4.6" fill="#111"/>
<rect x="242" y="314" width="1.2" height="6.6" fill="#111"/>
<rect x="242.8" y="317" width="1.2" height="3.6" fill="#111"/>
<rect x="248.4" y="318" width="1.2" height="2.6" fill="#111"/>
<rect x="249.9" y="317.8" width="1.2" height="2.8" fill="#111"/>
<rect x="251.4" y="318" width="1.2" height="2.6" fill="#111"/>
<rect x="257.4" y="317.5" width="1.2" height="3.1" fill="#111"/>
<rect x="258.7" y="316.7" width="1.2" height="3.9" fill="#111"/>
<rect x="259.7" y="318" width="1.2" height="2.6" fill="#111"/>
<rect x="267.4" y="320" width="1.2" height="0.6" fill="#111"/>
<rect x="268.9" y="320" width="1.2" height="0.6" fill="#111"/>
<rect x="291.4" y="320" width="1.2" height="0.6" fill="#111"/>
<rect x="295.4" y="320" width="1.2" height="0.6" fill="#111"/>
<rect x="299.4" y="320" width="1.2" height="0.6" fill="#111"/>
<rect x="304.4" y="320" width="1.2" height="0.6" fill="#111"/>
<rect x="309.4" y="320" width="1.2" height="0.6" fill="#111"/>
<rect x="314.4" y="319.8" width="1.2" height="0.8" fill="#111"/>
<rect x="317.4" y="319.8" width="1.2" height="0.8" fill="#111"/>
<rect x="321.4" y="319.8" width="1.2" height="0.8" fill="#111"/>
<rect x="325" y="318.9" width="1.2" height="1.7" fill="#111"/>
<rect x="328.3" y="318.4" width="1.2" height="2.2" fill="#111"/>
<rect x="329.2" y="317.5" width="1.2" height="3.1" fill="#111"/>
<rect x="330.9" y="316.5" width="1.2" height="4.1" fill="#111"/>
<rect x="332.4" y="315.4" width="1.2" height="5.2" fill="#111"/>
<rect x="336.7" y="296.2" width="1.2" height="24.4" fill="#111"/>
<rect x="338.2" y="306" width="1.2" height="14.6" fill="#111"/>
<rect x="340.3" y="276.6" width="1.2" height="44" fill="#111"/>
<rect x="345" y="301.9" width="1.2" height="18.7" fill="#111"/>
<rect x="346.1" y="295.2" width="1.2" height="25.4" fill="#111"/>
<rect x="348.1" y="257.9" width="1.2" height="62.7" fill="#111"/>
<rect x="353.4" y="276.6" width="1.2" height="44" fill="#111"/>
<rect x="354.4" y="288.4" width="1.2" height="32.2" fill="#111"/>
<rect x="356.4" y="286.3" width="1.2" height="34.3" fill="#111"/>
<text class="s" transform="translate(220.4 333.54) scale(0.85 1)" font-size="5.1" fill="#1a1a1a" text-anchor="middle">I</text>
<text class="s" transform="translate(228 333.54) scale(0.85 1)" font-size="5.1" fill="#1a1a1a" text-anchor="middle">I</text>
<text class="s" transform="translate(236 333.54) scale(0.85 1)" font-size="5.1" fill="#1a1a1a" text-anchor="middle">II</text>
<text class="s" transform="translate(243.7 333.54) scale(0.85 1)" font-size="5.1" fill="#1a1a1a" text-anchor="middle">III</text>
<text class="s" transform="translate(251.3 333.54) scale(0.85 1)" font-size="5.1" fill="#1a1a1a" text-anchor="middle">IV</text>
<text class="s" transform="translate(259.3 333.54) scale(0.85 1)" font-size="5.1" fill="#1a1a1a" text-anchor="middle">V</text>
<text class="s" transform="translate(267.3 333.54) scale(0.85 1)" font-size="5.1" fill="#1a1a1a" text-anchor="middle">V</text>
<text class="s" transform="translate(274.8 333.54) scale(0.85 1)" font-size="5.1" fill="#1a1a1a" text-anchor="middle">VI</text>
<text class="s" transform="translate(282.5 333.54) scale(0.85 1)" font-size="5.1" fill="#1a1a1a" text-anchor="middle">VII</text>
<text class="s" transform="translate(290.6 333.54) scale(0.85 1)" font-size="5.1" fill="#1a1a1a" text-anchor="middle">VII</text>
<text class="s" transform="translate(298 333.54) scale(0.85 1)" font-size="5.1" fill="#1a1a1a" text-anchor="middle">VIII</text>
<text class="s" transform="translate(307 333.54) scale(0.85 1)" font-size="5.1" fill="#1a1a1a" text-anchor="middle">VIII</text>
<text class="s" transform="translate(314.4 333.54) scale(0.85 1)" font-size="5.1" fill="#1a1a1a" text-anchor="middle">IX</text>
<text class="s" transform="translate(322.9 333.54) scale(0.85 1)" font-size="5.1" fill="#1a1a1a" text-anchor="middle">IX</text>
<text class="s" transform="translate(330.7 333.54) scale(0.85 1)" font-size="5.1" fill="#1a1a1a" text-anchor="middle">X</text>
<text class="s" transform="translate(338.6 333.54) scale(0.85 1)" font-size="5.1" fill="#1a1a1a" text-anchor="middle">X</text>
<text class="s" transform="translate(346.3 333.54) scale(0.85 1)" font-size="5.1" fill="#1a1a1a" text-anchor="middle">XI</text>
<text class="s" transform="translate(354.5 333.54) scale(0.85 1)" font-size="5.1" fill="#1a1a1a" text-anchor="middle">XII</text>
<text class="r" x="287.4" y="343.3" font-size="7.4" fill="#1a1a1a" text-anchor="middle" textLength="13.2" lengthAdjust="spacingAndGlyphs">2008</text>
<text class="r" font-size="7.2" fill="#1a1a1a" text-anchor="middle" transform="translate(192.9,285.8) rotate(-90) scale(0.91,1)">cells L<tspan font-size="4.6" dy="-2.8">-1</tspan></text>
<line x1="395.7" y1="22.9" x2="542.5" y2="22.9" stroke="#a0a0a0" stroke-width="1"/>
<text class="s" x="391.6" y="25.23" font-size="5.1" fill="#1a1a1a" text-anchor="end" textLength="14.7" lengthAdjust="spacingAndGlyphs">9.E+04</text>
<line x1="395.7" y1="30.66" x2="542.5" y2="30.66" stroke="#a0a0a0" stroke-width="1"/>
<text class="s" x="391.6" y="32.98" font-size="5.1" fill="#1a1a1a" text-anchor="end" textLength="14.7" lengthAdjust="spacingAndGlyphs">8.E+04</text>
<line x1="395.7" y1="38.41" x2="542.5" y2="38.41" stroke="#a0a0a0" stroke-width="1"/>
<text class="s" x="391.6" y="40.74" font-size="5.1" fill="#1a1a1a" text-anchor="end" textLength="14.7" lengthAdjust="spacingAndGlyphs">7.E+04</text>
<line x1="395.7" y1="46.17" x2="542.5" y2="46.17" stroke="#a0a0a0" stroke-width="1"/>
<text class="s" x="391.6" y="48.49" font-size="5.1" fill="#1a1a1a" text-anchor="end" textLength="14.7" lengthAdjust="spacingAndGlyphs">6.E+04</text>
<line x1="395.7" y1="53.92" x2="542.5" y2="53.92" stroke="#a0a0a0" stroke-width="1"/>
<text class="s" x="391.6" y="56.25" font-size="5.1" fill="#1a1a1a" text-anchor="end" textLength="14.7" lengthAdjust="spacingAndGlyphs">5.E+04</text>
<line x1="395.7" y1="61.68" x2="542.5" y2="61.68" stroke="#a0a0a0" stroke-width="1"/>
<text class="s" x="391.6" y="64" font-size="5.1" fill="#1a1a1a" text-anchor="end" textLength="14.7" lengthAdjust="spacingAndGlyphs">4.E+04</text>
<line x1="395.7" y1="69.43" x2="542.5" y2="69.43" stroke="#a0a0a0" stroke-width="1"/>
<text class="s" x="391.6" y="71.76" font-size="5.1" fill="#1a1a1a" text-anchor="end" textLength="14.7" lengthAdjust="spacingAndGlyphs">3.E+04</text>
<line x1="395.7" y1="77.19" x2="542.5" y2="77.19" stroke="#a0a0a0" stroke-width="1"/>
<text class="s" x="391.6" y="79.51" font-size="5.1" fill="#1a1a1a" text-anchor="end" textLength="14.7" lengthAdjust="spacingAndGlyphs">2.E+04</text>
<line x1="395.7" y1="84.94" x2="542.5" y2="84.94" stroke="#a0a0a0" stroke-width="1"/>
<text class="s" x="391.6" y="87.27" font-size="5.1" fill="#1a1a1a" text-anchor="end" textLength="14.7" lengthAdjust="spacingAndGlyphs">1.E+04</text>
<line x1="395.7" y1="92.7" x2="542.5" y2="92.7" stroke="#a0a0a0" stroke-width="1"/>
<text class="s" x="391.6" y="95.03" font-size="5.1" fill="#1a1a1a" text-anchor="end" textLength="14.7" lengthAdjust="spacingAndGlyphs">0.E+00</text>
<line x1="397.7" y1="22.9" x2="397.7" y2="92.7" stroke="#a0a0a0" stroke-width="1"/>
<rect x="415" y="81.2" width="1.2" height="11.5" fill="#111"/>
<rect x="416.4" y="87.1" width="1.2" height="5.6" fill="#111"/>
<rect x="423.9" y="87.1" width="1.2" height="5.6" fill="#111"/>
<rect x="428.8" y="79.8" width="1.2" height="12.9" fill="#111"/>
<rect x="430.1" y="83.8" width="1.2" height="8.9" fill="#111"/>
<rect x="431.4" y="84.7" width="1.2" height="8" fill="#111"/>
<rect x="436.8" y="65.3" width="1.2" height="27.4" fill="#111"/>
<rect x="438.1" y="85.1" width="1.2" height="7.6" fill="#111"/>
<rect x="439.4" y="85.1" width="1.2" height="7.6" fill="#111"/>
<rect x="445.8" y="63.9" width="1.2" height="28.8" fill="#111"/>
<rect x="446.9" y="83.8" width="1.2" height="8.9" fill="#111"/>
<rect x="448.1" y="84.5" width="1.2" height="8.2" fill="#111"/>
<rect x="451.6" y="65.9" width="1.2" height="26.8" fill="#111"/>
<rect x="452.7" y="66.6" width="1.2" height="26.1" fill="#111"/>
<rect x="454.3" y="58.2" width="1.2" height="34.5" fill="#111"/>
<rect x="455.3" y="89.1" width="1.2" height="3.6" fill="#111"/>
<rect x="458.9" y="87.8" width="1.2" height="4.9" fill="#111"/>
<rect x="459.9" y="87.8" width="1.2" height="4.9" fill="#111"/>
<rect x="460.9" y="78.9" width="1.2" height="13.8" fill="#111"/>
<rect x="462.9" y="87.8" width="1.2" height="4.9" fill="#111"/>
<rect x="464.2" y="88" width="1.2" height="4.7" fill="#111"/>
<rect x="467.9" y="89.1" width="1.2" height="3.6" fill="#111"/>
<rect x="470.8" y="71" width="1.2" height="21.7" fill="#111"/>
<rect x="474.5" y="80.2" width="1.2" height="12.5" fill="#111"/>
<rect x="475.9" y="60.6" width="1.2" height="32.1" fill="#111"/>
<rect x="477.2" y="63.9" width="1.2" height="28.8" fill="#111"/>
<rect x="478.1" y="68.6" width="1.2" height="24.1" fill="#111"/>
<rect x="483.2" y="82.9" width="1.2" height="9.8" fill="#111"/>
<rect x="484.2" y="88.5" width="1.2" height="4.2" fill="#111"/>
<rect x="485.8" y="79.4" width="1.2" height="13.3" fill="#111"/>
<rect x="486.9" y="81.2" width="1.2" height="11.5" fill="#111"/>
<rect x="487.7" y="83.1" width="1.2" height="9.6" fill="#111"/>
<rect x="490.9" y="86.4" width="1.2" height="6.3" fill="#111"/>
<rect x="491.7" y="86.4" width="1.2" height="6.3" fill="#111"/>
<rect x="493.1" y="80.5" width="1.2" height="12.2" fill="#111"/>
<rect x="494.4" y="83.1" width="1.2" height="9.6" fill="#111"/>
<rect x="497.3" y="87.1" width="1.2" height="5.6" fill="#111"/>
<rect x="498.2" y="87.1" width="1.2" height="5.6" fill="#111"/>
<rect x="499.7" y="89" width="1.2" height="3.7" fill="#111"/>
<rect x="500.4" y="89" width="1.2" height="3.7" fill="#111"/>
<rect x="505.9" y="73.2" width="1.2" height="19.5" fill="#111"/>
<rect x="507.9" y="88.4" width="1.2" height="4.3" fill="#111"/>
<rect x="512.9" y="81.8" width="1.2" height="10.9" fill="#111"/>
<rect x="513.7" y="81.8" width="1.2" height="10.9" fill="#111"/>
<rect x="514.5" y="75.8" width="1.2" height="16.9" fill="#111"/>
<rect x="515.2" y="69.9" width="1.2" height="22.8" fill="#111"/>
<rect x="516.5" y="76.5" width="1.2" height="16.2" fill="#111"/>
<rect x="517.9" y="81.8" width="1.2" height="10.9" fill="#111"/>
<rect x="520.1" y="84.7" width="1.2" height="8" fill="#111"/>
<rect x="524.5" y="89.5" width="1.2" height="3.2" fill="#111"/>
<rect x="530.4" y="87.1" width="1.2" height="5.6" fill="#111"/>
<rect x="535.7" y="88.4" width="1.2" height="4.3" fill="#111"/>
<rect x="536.8" y="83.8" width="1.2" height="8.9" fill="#111"/>
<rect x="539" y="90.8" width="1.2" height="1.9" fill="#111"/>
<text class="s" transform="translate(402 104.94) scale(0.85 1)" font-size="5.1" fill="#1a1a1a" text-anchor="middle">I</text>
<text class="s" transform="translate(409.3 104.94) scale(0.85 1)" font-size="5.1" fill="#1a1a1a" text-anchor="middle">II</text>
<text class="s" transform="translate(416.8 104.94) scale(0.85 1)" font-size="5.1" fill="#1a1a1a" text-anchor="middle">III</text>
<text class="s" transform="translate(424.4 104.94) scale(0.85 1)" font-size="5.1" fill="#1a1a1a" text-anchor="middle">IV</text>
<text class="s" transform="translate(432.1 104.94) scale(0.85 1)" font-size="5.1" fill="#1a1a1a" text-anchor="middle">IV</text>
<text class="s" transform="translate(439.8 104.94) scale(0.85 1)" font-size="5.1" fill="#1a1a1a" text-anchor="middle">V</text>
<text class="s" transform="translate(447.7 104.94) scale(0.85 1)" font-size="5.1" fill="#1a1a1a" text-anchor="middle">V</text>
<text class="s" transform="translate(454.9 104.94) scale(0.85 1)" font-size="5.1" fill="#1a1a1a" text-anchor="middle">VI</text>
<text class="s" transform="translate(462.1 104.94) scale(0.85 1)" font-size="5.1" fill="#1a1a1a" text-anchor="middle">VI</text>
<text class="s" transform="translate(470.1 104.94) scale(0.85 1)" font-size="5.1" fill="#1a1a1a" text-anchor="middle">VII</text>
<text class="s" transform="translate(478 104.94) scale(0.85 1)" font-size="5.1" fill="#1a1a1a" text-anchor="middle">VII</text>
<text class="s" transform="translate(485.4 104.94) scale(0.85 1)" font-size="5.1" fill="#1a1a1a" text-anchor="middle">VIII</text>
<text class="s" transform="translate(492.7 104.94) scale(0.85 1)" font-size="5.1" fill="#1a1a1a" text-anchor="middle">VIII</text>
<text class="s" transform="translate(500.6 104.94) scale(0.85 1)" font-size="5.1" fill="#1a1a1a" text-anchor="middle">IX</text>
<text class="s" transform="translate(508.3 104.94) scale(0.85 1)" font-size="5.1" fill="#1a1a1a" text-anchor="middle">IX</text>
<text class="s" transform="translate(515.6 104.94) scale(0.85 1)" font-size="5.1" fill="#1a1a1a" text-anchor="middle">X</text>
<text class="s" transform="translate(523.5 104.94) scale(0.85 1)" font-size="5.1" fill="#1a1a1a" text-anchor="middle">X</text>
<text class="s" transform="translate(530.7 104.94) scale(0.85 1)" font-size="5.1" fill="#1a1a1a" text-anchor="middle">XI</text>
<text class="s" transform="translate(538.2 104.94) scale(0.85 1)" font-size="5.1" fill="#1a1a1a" text-anchor="middle">XII</text>
<text class="r" x="470.4" y="115.7" font-size="7.4" fill="#1a1a1a" text-anchor="middle" textLength="13.2" lengthAdjust="spacingAndGlyphs">2006</text>
<text class="r" font-size="7.2" fill="#1a1a1a" text-anchor="middle" transform="translate(375.8,57.9) rotate(-90) scale(0.91,1)">cells L<tspan font-size="4.6" dy="-2.8">-1</tspan></text>
<line x1="396.8" y1="136.6" x2="543.6" y2="136.6" stroke="#a0a0a0" stroke-width="1"/>
<text class="s" x="392" y="139.07" font-size="5.5" fill="#1a1a1a" text-anchor="end" textLength="15.4" lengthAdjust="spacingAndGlyphs">3.E+05</text>
<line x1="396.8" y1="159.73" x2="543.6" y2="159.73" stroke="#a0a0a0" stroke-width="1"/>
<text class="s" x="392" y="162.2" font-size="5.5" fill="#1a1a1a" text-anchor="end" textLength="15.4" lengthAdjust="spacingAndGlyphs">2.E+05</text>
<line x1="396.8" y1="182.87" x2="543.6" y2="182.87" stroke="#a0a0a0" stroke-width="1"/>
<text class="s" x="392" y="185.34" font-size="5.5" fill="#1a1a1a" text-anchor="end" textLength="15.4" lengthAdjust="spacingAndGlyphs">1.E+05</text>
<line x1="396.8" y1="206" x2="543.6" y2="206" stroke="#a0a0a0" stroke-width="1"/>
<text class="s" x="392" y="208.47" font-size="5.5" fill="#1a1a1a" text-anchor="end" textLength="15.4" lengthAdjust="spacingAndGlyphs">0.E+00</text>
<line x1="398.8" y1="136.6" x2="398.8" y2="206" stroke="#a0a0a0" stroke-width="1"/>
<rect x="400.4" y="202.7" width="1.2" height="3.3" fill="#111"/>
<rect x="401.6" y="187.2" width="1.2" height="18.8" fill="#111"/>
<rect x="402.3" y="204" width="1.2" height="2" fill="#111"/>
<rect x="406.8" y="166.7" width="1.2" height="39.3" fill="#111"/>
<rect x="408" y="168.4" width="1.2" height="37.6" fill="#111"/>
<rect x="409.2" y="150.3" width="1.2" height="55.7" fill="#111"/>
<rect x="410.4" y="199" width="1.2" height="7" fill="#111"/>
<rect x="414.3" y="204" width="1.2" height="2" fill="#111"/>
<rect x="415.4" y="198.5" width="1.2" height="7.5" fill="#111"/>
<rect x="416.7" y="167.6" width="1.2" height="38.4" fill="#111"/>
<rect x="418" y="201.9" width="1.2" height="4.1" fill="#111"/>
<rect x="423.2" y="204" width="1.2" height="2" fill="#111"/>
<rect x="424.9" y="203.5" width="1.2" height="2.5" fill="#111"/>
<rect x="426.4" y="204" width="1.2" height="2" fill="#111"/>
<rect x="429.85" y="141.1" width="1.3" height="64.9" fill="#111"/>
<rect x="432.4" y="201" width="1.2" height="5" fill="#111"/>
<rect x="433.4" y="200.4" width="1.2" height="5.6" fill="#111"/>
<rect x="434.6" y="201" width="1.2" height="5" fill="#111"/>
<rect x="437.4" y="205" width="1.2" height="1" fill="#111"/>
<rect x="439.4" y="205.2" width="1.2" height="0.8" fill="#111"/>
<rect x="444.9" y="205" width="1.2" height="1" fill="#111"/>
<rect x="446.4" y="205" width="1.2" height="1" fill="#111"/>
<rect x="449.1" y="199.3" width="1.2" height="6.7" fill="#111"/>
<rect x="452.4" y="205.2" width="1.2" height="0.8" fill="#111"/>
<rect x="454.4" y="205.2" width="1.2" height="0.8" fill="#111"/>
<rect x="456.8" y="193.9" width="1.2" height="12.1" fill="#111"/>
<rect x="464.1" y="202.4" width="1.2" height="3.6" fill="#111"/>
<rect x="464.9" y="202.4" width="1.2" height="3.6" fill="#111"/>
<rect x="468.4" y="205.4" width="1.2" height="0.6" fill="#111"/>
<rect x="472.1" y="178.1" width="1.2" height="27.9" fill="#111"/>
<rect x="476.4" y="205.4" width="1.2" height="0.6" fill="#111"/>
<rect x="480.4" y="205.4" width="1.2" height="0.6" fill="#111"/>
<rect x="486.4" y="205" width="1.2" height="1" fill="#111"/>
<rect x="492.8" y="202.7" width="1.2" height="3.3" fill="#111"/>
<rect x="493.4" y="203.5" width="1.2" height="2.5" fill="#111"/>
<rect x="498.4" y="203" width="1.2" height="3" fill="#111"/>
<rect x="499.2" y="202.1" width="1.2" height="3.9" fill="#111"/>
<rect x="500" y="203.5" width="1.2" height="2.5" fill="#111"/>
<rect x="501.6" y="205" width="1.2" height="1" fill="#111"/>
<rect x="510.1" y="204" width="1.2" height="2" fill="#111"/>
<rect x="529.9" y="205.4" width="1.2" height="0.6" fill="#111"/>
<rect x="540.4" y="205" width="1.2" height="1" fill="#111"/>
<text class="s" transform="translate(402.6 218.84) scale(0.85 1)" font-size="5.1" fill="#1a1a1a" text-anchor="middle">I</text>
<text class="s" transform="translate(410.3 218.84) scale(0.85 1)" font-size="5.1" fill="#1a1a1a" text-anchor="middle">II</text>
<text class="s" transform="translate(417.5 218.84) scale(0.85 1)" font-size="5.1" fill="#1a1a1a" text-anchor="middle">III</text>
<text class="s" transform="translate(425.3 218.84) scale(0.85 1)" font-size="5.1" fill="#1a1a1a" text-anchor="middle">IV</text>
<text class="s" transform="translate(433.1 218.84) scale(0.85 1)" font-size="5.1" fill="#1a1a1a" text-anchor="middle">IV</text>
<text class="s" transform="translate(440.8 218.84) scale(0.85 1)" font-size="5.1" fill="#1a1a1a" text-anchor="middle">V</text>
<text class="s" transform="translate(448.5 218.84) scale(0.85 1)" font-size="5.1" fill="#1a1a1a" text-anchor="middle">V</text>
<text class="s" transform="translate(455.8 218.84) scale(0.85 1)" font-size="5.1" fill="#1a1a1a" text-anchor="middle">VI</text>
<text class="s" transform="translate(463.2 218.84) scale(0.85 1)" font-size="5.1" fill="#1a1a1a" text-anchor="middle">VI</text>
<text class="s" transform="translate(470.3 218.84) scale(0.85 1)" font-size="5.1" fill="#1a1a1a" text-anchor="middle">VII</text>
<text class="s" transform="translate(479.3 218.84) scale(0.85 1)" font-size="5.1" fill="#1a1a1a" text-anchor="middle">VII</text>
<text class="s" transform="translate(486.2 218.84) scale(0.85 1)" font-size="5.1" fill="#1a1a1a" text-anchor="middle">VIII</text>
<text class="s" transform="translate(494.4 218.84) scale(0.85 1)" font-size="5.1" fill="#1a1a1a" text-anchor="middle">VIII</text>
<text class="s" transform="translate(501.7 218.84) scale(0.85 1)" font-size="5.1" fill="#1a1a1a" text-anchor="middle">IX</text>
<text class="s" transform="translate(509.4 218.84) scale(0.85 1)" font-size="5.1" fill="#1a1a1a" text-anchor="middle">IX</text>
<text class="s" transform="translate(517 218.84) scale(0.85 1)" font-size="5.1" fill="#1a1a1a" text-anchor="middle">X</text>
<text class="s" transform="translate(524.6 218.84) scale(0.85 1)" font-size="5.1" fill="#1a1a1a" text-anchor="middle">X</text>
<text class="s" transform="translate(532 218.84) scale(0.85 1)" font-size="5.1" fill="#1a1a1a" text-anchor="middle">XI</text>
<text class="s" transform="translate(540.2 218.84) scale(0.85 1)" font-size="5.1" fill="#1a1a1a" text-anchor="middle">XII</text>
<text class="r" x="471" y="229.4" font-size="7.4" fill="#1a1a1a" text-anchor="middle" textLength="13.2" lengthAdjust="spacingAndGlyphs">2007</text>
<text class="r" font-size="7.2" fill="#1a1a1a" text-anchor="middle" transform="translate(376.7,172.2) rotate(-90) scale(0.91,1)">cells L<tspan font-size="4.6" dy="-2.8">-1</tspan></text>
<line x1="397.3" y1="252.3" x2="543" y2="252.3" stroke="#a0a0a0" stroke-width="1"/>
<text class="s" x="392.5" y="254.63" font-size="5.1" fill="#1a1a1a" text-anchor="end" textLength="15.2" lengthAdjust="spacingAndGlyphs">9.E+04</text>
<line x1="397.3" y1="260.03" x2="543" y2="260.03" stroke="#a0a0a0" stroke-width="1"/>
<text class="s" x="392.5" y="262.36" font-size="5.1" fill="#1a1a1a" text-anchor="end" textLength="15.2" lengthAdjust="spacingAndGlyphs">8.E+04</text>
<line x1="397.3" y1="267.77" x2="543" y2="267.77" stroke="#a0a0a0" stroke-width="1"/>
<text class="s" x="392.5" y="270.09" font-size="5.1" fill="#1a1a1a" text-anchor="end" textLength="15.2" lengthAdjust="spacingAndGlyphs">7.E+04</text>
<line x1="397.3" y1="275.5" x2="543" y2="275.5" stroke="#a0a0a0" stroke-width="1"/>
<text class="s" x="392.5" y="277.83" font-size="5.1" fill="#1a1a1a" text-anchor="end" textLength="15.2" lengthAdjust="spacingAndGlyphs">6.E+04</text>
<line x1="397.3" y1="283.23" x2="543" y2="283.23" stroke="#a0a0a0" stroke-width="1"/>
<text class="s" x="392.5" y="285.56" font-size="5.1" fill="#1a1a1a" text-anchor="end" textLength="15.2" lengthAdjust="spacingAndGlyphs">5.E+04</text>
<line x1="397.3" y1="290.97" x2="543" y2="290.97" stroke="#a0a0a0" stroke-width="1"/>
<text class="s" x="392.5" y="293.29" font-size="5.1" fill="#1a1a1a" text-anchor="end" textLength="15.2" lengthAdjust="spacingAndGlyphs">4.E+04</text>
<line x1="397.3" y1="298.7" x2="543" y2="298.7" stroke="#a0a0a0" stroke-width="1"/>
<text class="s" x="392.5" y="301.03" font-size="5.1" fill="#1a1a1a" text-anchor="end" textLength="15.2" lengthAdjust="spacingAndGlyphs">3.E+04</text>
<line x1="397.3" y1="306.43" x2="543" y2="306.43" stroke="#a0a0a0" stroke-width="1"/>
<text class="s" x="392.5" y="308.76" font-size="5.1" fill="#1a1a1a" text-anchor="end" textLength="15.2" lengthAdjust="spacingAndGlyphs">2.E+04</text>
<line x1="397.3" y1="314.17" x2="543" y2="314.17" stroke="#a0a0a0" stroke-width="1"/>
<text class="s" x="392.5" y="316.49" font-size="5.1" fill="#1a1a1a" text-anchor="end" textLength="15.2" lengthAdjust="spacingAndGlyphs">1.E+04</text>
<line x1="397.3" y1="321.9" x2="543" y2="321.9" stroke="#a0a0a0" stroke-width="1"/>
<text class="s" x="392.5" y="324.23" font-size="5.1" fill="#1a1a1a" text-anchor="end" textLength="15.2" lengthAdjust="spacingAndGlyphs">0.E+00</text>
<line x1="399.3" y1="252.3" x2="399.3" y2="321.9" stroke="#a0a0a0" stroke-width="1"/>
<rect x="400.7" y="293.3" width="1.2" height="28.6" fill="#111"/>
<rect x="401.7" y="314" width="1.2" height="7.9" fill="#111"/>
<rect x="402.8" y="318" width="1.2" height="3.9" fill="#111"/>
<rect x="405" y="308.9" width="1" height="13" fill="#999"/>
<rect x="405.9" y="312.4" width="1" height="9.5" fill="#999"/>
<rect x="408.55" y="258.7" width="1.3" height="63.2" fill="#111"/>
<rect x="409.7" y="292.7" width="1.2" height="29.2" fill="#111"/>
<rect x="410.7" y="294" width="1.2" height="27.9" fill="#111"/>
<rect x="412.1" y="313.2" width="1.2" height="8.7" fill="#111"/>
<rect x="413.1" y="313.2" width="1.2" height="8.7" fill="#111"/>
<rect x="415.4" y="316.8" width="1.2" height="5.1" fill="#111"/>
<rect x="416.7" y="316.8" width="1.2" height="5.1" fill="#111"/>
<rect x="418.2" y="314" width="1.2" height="7.9" fill="#111"/>
<rect x="419" y="306.4" width="1.2" height="15.5" fill="#111"/>
<rect x="419.8" y="313" width="1.2" height="8.9" fill="#111"/>
<rect x="423.1" y="320.5" width="1.2" height="1.4" fill="#111"/>
<rect x="425.9" y="320.5" width="1.2" height="1.4" fill="#111"/>
<rect x="430" y="314" width="1.2" height="7.9" fill="#111"/>
<rect x="431" y="314" width="1.2" height="7.9" fill="#111"/>
<rect x="431.9" y="313.6" width="1.2" height="8.3" fill="#111"/>
<rect x="432.9" y="314" width="1.2" height="7.9" fill="#111"/>
<rect x="435.4" y="315.5" width="1.2" height="6.4" fill="#111"/>
<rect x="438.2" y="318" width="1.2" height="3.9" fill="#111"/>
<rect x="439.6" y="318" width="1.2" height="3.9" fill="#111"/>
<rect x="440.9" y="318" width="1.2" height="3.9" fill="#111"/>
<rect x="443" y="320" width="1.2" height="1.9" fill="#111"/>
<rect x="444.9" y="319" width="1.2" height="2.9" fill="#111"/>
<rect x="445.9" y="319" width="1.2" height="2.9" fill="#111"/>
<rect x="448.9" y="320.5" width="1.2" height="1.4" fill="#111"/>
<rect x="452.8" y="320" width="1.2" height="1.9" fill="#111"/>
<rect x="460.2" y="320.5" width="1.2" height="1.4" fill="#111"/>
<rect x="460.9" y="320.5" width="1.2" height="1.4" fill="#111"/>
<rect x="469.4" y="321" width="1.2" height="0.9" fill="#111"/>
<rect x="474.4" y="321" width="1.2" height="0.9" fill="#111"/>
<rect x="479.4" y="321" width="1.2" height="0.9" fill="#111"/>
<rect x="484.3" y="313" width="1.2" height="8.9" fill="#111"/>
<rect x="485" y="312.4" width="1.2" height="9.5" fill="#111"/>
<rect x="488.4" y="301.6" width="1" height="20.3" fill="#888"/>
<rect x="490.3" y="320.5" width="1.2" height="1.4" fill="#111"/>
<rect x="491.4" y="320" width="1.2" height="1.9" fill="#111"/>
<rect x="492.9" y="319.8" width="1.2" height="2.1" fill="#111"/>
<rect x="497.9" y="318.1" width="1.2" height="3.8" fill="#111"/>
<rect x="498.7" y="318.5" width="1.2" height="3.4" fill="#111"/>
<rect x="505.2" y="318.7" width="1.2" height="3.2" fill="#111"/>
<rect x="506.2" y="304.1" width="1.2" height="17.8" fill="#111"/>
<rect x="507.1" y="305.4" width="1.2" height="16.5" fill="#111"/>
<rect x="510" y="306.6" width="1.2" height="15.3" fill="#111"/>
<rect x="512.8" y="303.5" width="1.2" height="18.4" fill="#111"/>
<rect x="514" y="304.1" width="1.2" height="17.8" fill="#111"/>
<rect x="515.1" y="305.4" width="1.2" height="16.5" fill="#111"/>
<rect x="517.15" y="299" width="1.3" height="22.9" fill="#111"/>
<rect x="521.2" y="318.7" width="1.2" height="3.2" fill="#111"/>
<rect x="522.4" y="318.7" width="1.2" height="3.2" fill="#111"/>
<rect x="524.8" y="320" width="1.2" height="1.9" fill="#111"/>
<rect x="528" y="314.3" width="1.2" height="7.6" fill="#111"/>
<rect x="531.4" y="321" width="1.2" height="0.9" fill="#111"/>
<rect x="532.9" y="321" width="1.2" height="0.9" fill="#111"/>
<rect x="535.9" y="321" width="1.2" height="0.9" fill="#111"/>
<rect x="538.4" y="321" width="1.2" height="0.9" fill="#111"/>
<text class="s" transform="translate(403.4 334.24) scale(0.85 1)" font-size="5.1" fill="#1a1a1a" text-anchor="middle">I</text>
<text class="s" transform="translate(411 334.24) scale(0.85 1)" font-size="5.1" fill="#1a1a1a" text-anchor="middle">II</text>
<text class="s" transform="translate(417.5 334.24) scale(0.85 1)" font-size="5.1" fill="#1a1a1a" text-anchor="middle">III</text>
<text class="s" transform="translate(425.5 334.24) scale(0.85 1)" font-size="5.1" fill="#1a1a1a" text-anchor="middle">IV</text>
<text class="s" transform="translate(433.1 334.24) scale(0.85 1)" font-size="5.1" fill="#1a1a1a" text-anchor="middle">IV</text>
<text class="s" transform="translate(441.3 334.24) scale(0.85 1)" font-size="5.1" fill="#1a1a1a" text-anchor="middle">V</text>
<text class="s" transform="translate(448.8 334.24) scale(0.85 1)" font-size="5.1" fill="#1a1a1a" text-anchor="middle">V</text>
<text class="s" transform="translate(456.1 334.24) scale(0.85 1)" font-size="5.1" fill="#1a1a1a" text-anchor="middle">VI</text>
<text class="s" transform="translate(463.2 334.24) scale(0.85 1)" font-size="5.1" fill="#1a1a1a" text-anchor="middle">VI</text>
<text class="s" transform="translate(470.1 334.24) scale(0.85 1)" font-size="5.1" fill="#1a1a1a" text-anchor="middle">VII</text>
<text class="s" transform="translate(478 334.24) scale(0.85 1)" font-size="5.1" fill="#1a1a1a" text-anchor="middle">VII</text>
<text class="s" transform="translate(484.9 334.24) scale(0.85 1)" font-size="5.1" fill="#1a1a1a" text-anchor="middle">VIII</text>
<text class="s" transform="translate(492.7 334.24) scale(0.85 1)" font-size="5.1" fill="#1a1a1a" text-anchor="middle">VIII</text>
<text class="s" transform="translate(500.9 334.24) scale(0.85 1)" font-size="5.1" fill="#1a1a1a" text-anchor="middle">IX</text>
<text class="s" transform="translate(508.8 334.24) scale(0.85 1)" font-size="5.1" fill="#1a1a1a" text-anchor="middle">IX</text>
<text class="s" transform="translate(516.5 334.24) scale(0.85 1)" font-size="5.1" fill="#1a1a1a" text-anchor="middle">X</text>
<text class="s" transform="translate(523.8 334.24) scale(0.85 1)" font-size="5.1" fill="#1a1a1a" text-anchor="middle">X</text>
<text class="s" transform="translate(531.2 334.24) scale(0.85 1)" font-size="5.1" fill="#1a1a1a" text-anchor="middle">XI</text>
<text class="s" transform="translate(539.4 334.24) scale(0.85 1)" font-size="5.1" fill="#1a1a1a" text-anchor="middle">XII</text>
<text class="r" x="471" y="343.5" font-size="7.4" fill="#1a1a1a" text-anchor="middle" textLength="13.2" lengthAdjust="spacingAndGlyphs">2008</text>
<text class="r" font-size="7.2" fill="#1a1a1a" text-anchor="middle" transform="translate(375.3,286.9) rotate(-90) scale(0.91,1)">cells L<tspan font-size="4.6" dy="-2.8">-1</tspan></text>
<text class="s" x="75.2" y="31.7" font-size="8.3" font-weight="bold" fill="#111" textLength="3.0" lengthAdjust="spacingAndGlyphs">9</text>
<text class="s" x="79.7" y="31.2" font-size="5.4" font-weight="bold" fill="#111">x</text>
<text class="s" x="83.1" y="31.7" font-size="8.3" font-weight="bold" fill="#111" textLength="6.2" lengthAdjust="spacingAndGlyphs">10</text>
<text class="s" x="89.8" y="28.3" font-size="4.8" font-weight="bold" fill="#111">6</text>
</svg></body></html>
